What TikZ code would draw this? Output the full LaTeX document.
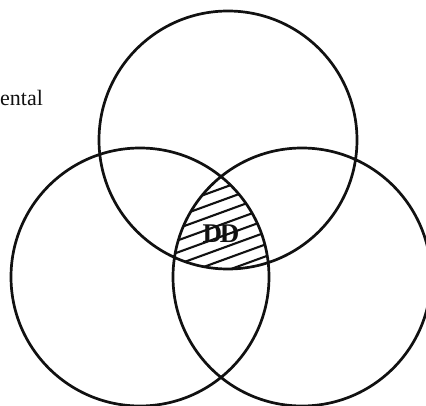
\documentclass[tikz,border=0pt]{standalone}
\usepackage{fontspec}
\setmainfont{Liberation Serif}
\usetikzlibrary{positioning}
\definecolor{vennInk}{HTML}{111111}
\tikzset{
  every picture/.style={text=vennInk},
  venn ring/.style={draw=vennInk, line width=2.7pt},
  venn hatch/.style={draw=vennInk, line width=2.1pt},
  venn word/.style={font=\fontsize{22}{24}\selectfont, inner sep=0pt},
  venn label/.style={font=\fontsize{27}{28}\selectfont\bfseries, inner sep=0pt}
}

\begin{document}
\begin{tikzpicture}[x=1pt,y=1pt]
  \useasboundingbox (0,0) rectangle (426,405);
  \coordinate (T) at (228,265); \coordinate (L) at (140,128); \coordinate (R) at (302,128);
  % shared part of all three rings
  \begin{scope}
    \clip (T) circle (129);
    \clip (L) circle (129);
    \clip (R) circle (129);
    \foreach \k in {-2,...,9}
      \draw[venn hatch] (220,144+12*\k) ++(200:90) -- ++(20:180);
  \end{scope}
  \draw[venn ring] (T) circle (129) (L) circle (129) (R) circle (129);
  \node[venn label, anchor=base] (dd) at (221,162) {D\kern-2ptD};
  \node[venn word, anchor=base west] (word) at (0,299) {ental};
\end{tikzpicture}
\end{document}
